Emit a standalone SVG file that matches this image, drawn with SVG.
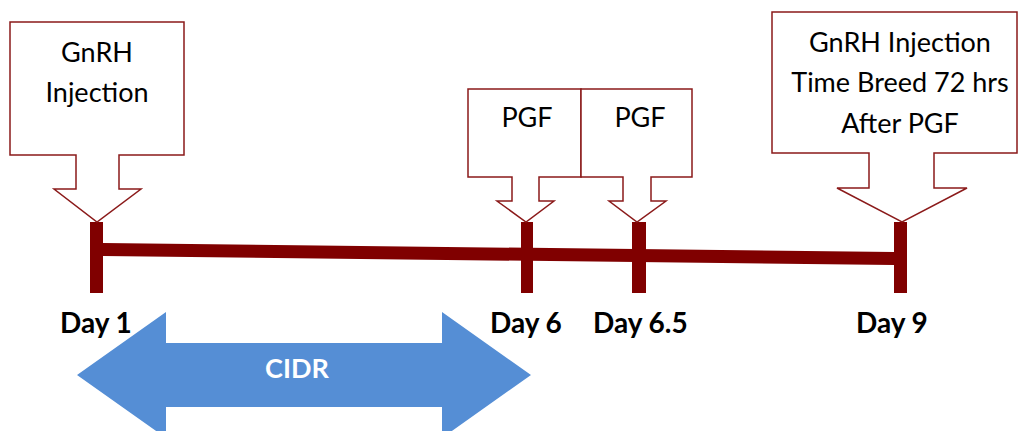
<svg xmlns="http://www.w3.org/2000/svg" width="1018" height="431" viewBox="0 0 1018 431">
<style>
.call{fill:#fff;stroke:#8B1A1A;stroke-width:1.5;stroke-linejoin:miter}
.t{font-family:Lato,"Liberation Sans",sans-serif;font-size:27px;fill:#000;text-anchor:middle}
.d{font-family:Lato,"Liberation Sans",sans-serif;font-size:28px;font-weight:bold;fill:#000}
.tick{fill:#800000}
</style>
<rect width="1018" height="431" fill="#fff"/>
<g id="timeline">
<polygon class="tick" points="103,243 894,252 894,265 103,256"/>
<rect class="tick" x="90" y="222" width="13" height="71"/>
<rect class="tick" x="521" y="222" width="12" height="71"/>
<rect class="tick" x="632" y="222" width="14" height="71"/>
<rect class="tick" x="894" y="222" width="13" height="71"/>
</g>
<g id="callout-gnrh1">
<polygon class="call" points="10,22 184,22 184,155 119,155 119,189 141,189 97,222 54,189 76,189 76,155 10,155"/>
<text class="t" x="97" y="62">GnRH</text>
<text class="t" x="97" y="102">Injection</text>
</g>
<g id="callout-pgf1">
<polygon class="call" points="468,89 581,89 581,177 539,177 539,201 554,201 526,222 497,201 512,201 512,177 468,177"/>
<text class="t" x="527" y="127">PGF</text>
</g>
<g id="callout-pgf2">
<polygon class="call" points="581,89 692,89 692,177 651,177 651,201 666,201 637,222 609,201 623,201 623,177 581,177"/>
<text class="t" x="640" y="127">PGF</text>
</g>
<g id="callout-gnrh2">
<polygon class="call" points="772,12 1017,12 1017,153 934,153 934,188 967,188 902,222 837,188 869,188 869,153 772,153"/>
<text class="t" x="900" y="52">GnRH Injection</text>
<text class="t" x="900" y="92">Time Breed 72 hrs</text>
<text class="t" x="900" y="133">After PGF</text>
</g>
<g id="labels">
<text class="d" x="60" y="333">Day 1</text>
<text class="d" x="490" y="333">Day 6</text>
<text class="d" x="593" y="333">Day 6.5</text>
<text class="d" x="856" y="333">Day 9</text>
</g>
<g id="cidr">
<polygon fill="#558ED5" points="77,375 166,312 166,343 442,343 442,312 531,375 442,438 442,407 166,407 166,438"/>
<text x="297" y="378" font-family="Lato,'Liberation Sans',sans-serif" font-size="27" font-weight="bold" fill="#fff" text-anchor="middle">CIDR</text>
</g>
</svg>
